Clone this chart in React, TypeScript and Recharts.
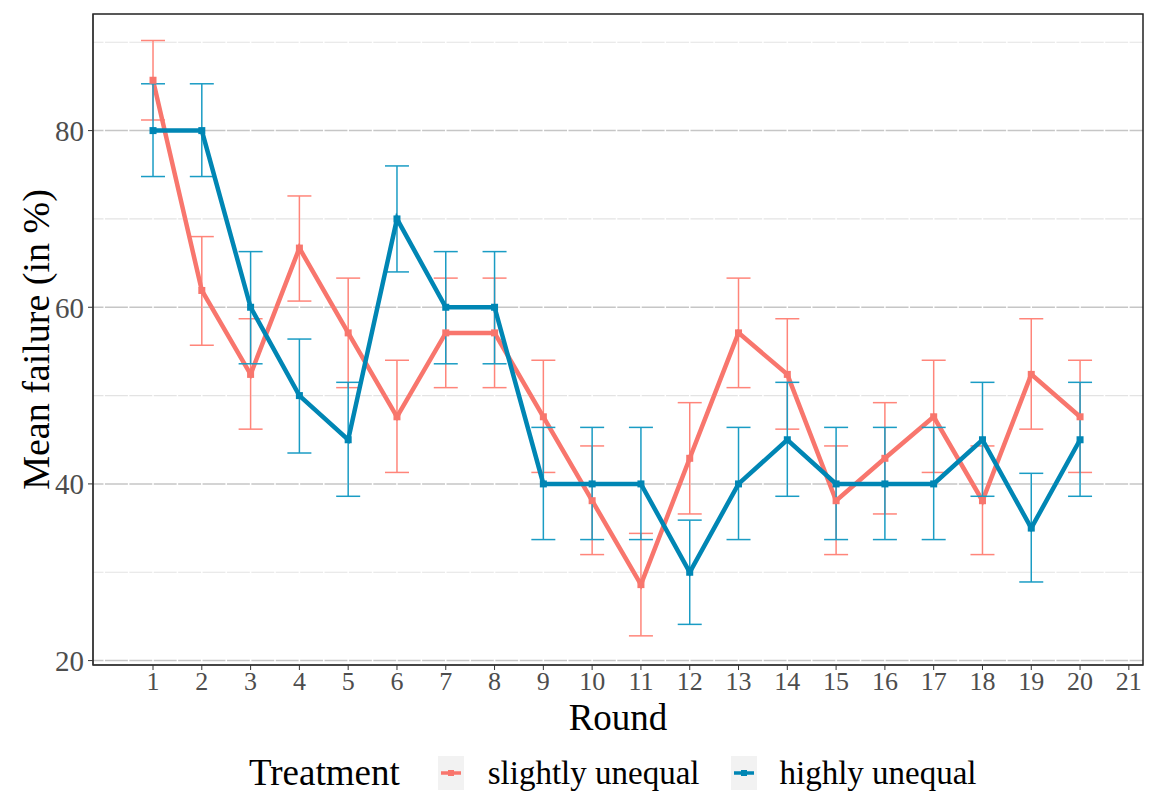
import React from 'react';
import {
  LineChart, Line, XAxis, YAxis, CartesianGrid, ErrorBar, ReferenceArea, Label
} from 'recharts';

// values
const rounds = [1, 2, 3, 4, 5, 6, 7, 8, 9, 10, 11, 12, 13, 14, 15, 16, 17, 18, 19, 20];

const slightMean = [85.7, 61.9, 52.4, 66.7, 57.1, 47.6, 57.1, 57.1, 47.6, 38.1, 28.6, 42.9, 57.1, 52.4, 38.1, 42.9, 47.6, 38.1, 52.4, 47.6];
const slightLow = [81.2, 55.7, 46.2, 60.7, 50.9, 41.3, 50.9, 50.9, 41.3, 32.0, 22.8, 36.6, 50.9, 46.2, 32.0, 36.6, 41.3, 32.0, 46.2, 41.3];
const slightHigh = [90.2, 68.0, 58.7, 72.6, 63.3, 54.0, 63.3, 63.3, 54.0, 44.3, 34.4, 49.2, 63.3, 58.7, 44.3, 49.2, 54.0, 44.3, 58.7, 54.0];

const highMean = [80, 80, 60, 50, 45, 70, 60, 60, 40, 40, 40, 30, 40, 45, 40, 40, 40, 45, 35, 45];
const highLow = [74.8, 74.8, 53.6, 43.5, 38.6, 64.0, 53.6, 53.6, 33.7, 33.7, 33.7, 24.1, 33.7, 38.6, 33.7, 33.7, 33.7, 38.6, 28.9, 38.6];
const highHigh = [85.3, 85.3, 66.3, 56.4, 51.5, 76.0, 66.3, 66.3, 46.4, 46.4, 46.4, 35.9, 46.4, 51.5, 46.4, 46.4, 46.4, 51.5, 41.2, 51.5];

const xTicks = [1, 2, 3, 4, 5, 6, 7, 8, 9, 10, 11, 12, 13, 14, 15, 16, 17, 18, 19, 20, 21];
const yTicks = [20, 40, 60, 80];
const yMinor = [30, 50, 70, 90];
const xHalfLines = Array.from({ length: 44 }, (_, i) => i * 0.5);

const RED = '#F8766D';
const RED_ERR = '#FF857A';
const BLUE = '#0086B4';
const BLUE_ERR = '#1A9CC4';
const FONT = '"Liberation Serif", "Times New Roman", serif';

const data = rounds.map((r, i) => ({
  round: r,
  slight: slightMean[i],
  slightErr: [slightMean[i] - slightLow[i], slightHigh[i] - slightMean[i]],
  high: highMean[i],
  highErr: [highMean[i] - highLow[i], highHigh[i] - highMean[i]],
}));

const squareDot = (color: string) => (props: any) => {
  const { cx, cy, index } = props;
  if (cx == null || cy == null) return <g key={index} />;
  return <rect key={index} x={cx - 3.5} y={cy - 3.5} width={7} height={7} fill={color} />;
};

const LegendKey = ({ color }: { color: string }) => (
  <svg width={26} height={34} style={{ background: '#f2f2f2', display: 'block' }}>
    <line x1={3} x2={23} y1={17} y2={17} stroke={color} strokeWidth={3.5} />
    <rect x={10} y={14} width={6} height={6} fill={color} />
  </svg>
);

const ChartLegend = () => (
  <div
    style={{
      position: 'absolute', left: 0, top: 753, width: 1153,
      display: 'flex', alignItems: 'center', fontFamily: FONT, color: '#000', whiteSpace: 'nowrap',
    }}
  >
    <span style={{ fontSize: 37, marginLeft: 249, marginRight: 38, lineHeight: '40px' }}>Treatment</span>
    <LegendKey color={RED} />
    <span style={{ fontSize: 33, marginLeft: 24, marginRight: 32, lineHeight: '40px' }}>slightly unequal</span>
    <LegendKey color={BLUE} />
    <span style={{ fontSize: 33, marginLeft: 22, lineHeight: '40px' }}>highly unequal</span>
  </div>
);

const App = () => {
  return (
    <div style={{ position: 'absolute', left: 0, top: 0, width: 1153, height: 792, background: '#fff', overflow: 'hidden' }}>
      <LineChart
        width={1153}
        height={792}
        data={data}
        margin={{ top: 14, right: 10, left: 0, bottom: 62 }}
      >
        <CartesianGrid horizontalValues={yMinor} vertical={false} stroke="#e3e3e3" strokeWidth={1.2} />
        <CartesianGrid horizontalValues={yTicks} vertical={false} stroke="#c6c6c6" strokeWidth={1.5} />
        <CartesianGrid verticalValues={xHalfLines} horizontal={false} stroke="#ffffff" strokeWidth={1.5} />
        <XAxis
          dataKey="round"
          type="number"
          domain={[-0.23, 21.29]}
          ticks={xTicks}
          allowDataOverflow
          interval={0}
          height={65}
          tickSize={5}
          tickMargin={2}
          stroke="#333"
          tick={{ fontSize: 26, fill: '#4d4d4d', fontFamily: FONT }}
        >
          <Label
            content={({ viewBox }: any) => (
              <text
                x={viewBox.x + viewBox.width / 2}
                y={viewBox.y + 65}
                textAnchor="middle"
                fontSize={37}
                fontFamily={FONT}
                fill="#000"
              >
                Round
              </text>
            )}
          />
        </XAxis>
        <YAxis
          type="number"
          domain={[19.5, 93.2]}
          ticks={yTicks}
          allowDataOverflow
          width={93}
          tickSize={5}
          tickMargin={4}
          stroke="#333"
          tick={{ fontSize: 29, fill: '#4d4d4d', fontFamily: FONT }}
        >
          <Label
            content={({ viewBox }: any) => {
              const cx = viewBox.x + 36;
              const cy = viewBox.y + viewBox.height / 2;
              return (
                <text
                  x={cx}
                  y={cy}
                  transform={`rotate(-90, ${cx}, ${cy})`}
                  textAnchor="middle"
                  dominantBaseline="central"
                  fontSize={38}
                  fontFamily={FONT}
                  fill="#000"
                >
                  Mean failure (in %)
                </text>
              );
            }}
          />
        </YAxis>
        <ReferenceArea
          x1={-0.23}
          x2={21.29}
          y1={19.5}
          y2={93.2}
          fill="none"
          fillOpacity={0}
          stroke="#222"
          strokeWidth={1.5}
          ifOverflow="visible"
        />
        <Line
          dataKey="slight"
          name="slightly unequal"
          stroke={RED}
          strokeWidth={4.5}
          dot={squareDot(RED)}
          activeDot={false}
          isAnimationActive={false}
        >
          <ErrorBar dataKey="slightErr" direction="y" width={12} stroke={RED_ERR} strokeWidth={1.5} />
        </Line>
        <Line
          dataKey="high"
          name="highly unequal"
          stroke={BLUE}
          strokeWidth={4.5}
          dot={squareDot(BLUE)}
          activeDot={false}
          isAnimationActive={false}
        >
          <ErrorBar dataKey="highErr" direction="y" width={12} stroke={BLUE_ERR} strokeWidth={1.5} />
        </Line>
      </LineChart>
      <ChartLegend />
    </div>
  );
};

export default App;
